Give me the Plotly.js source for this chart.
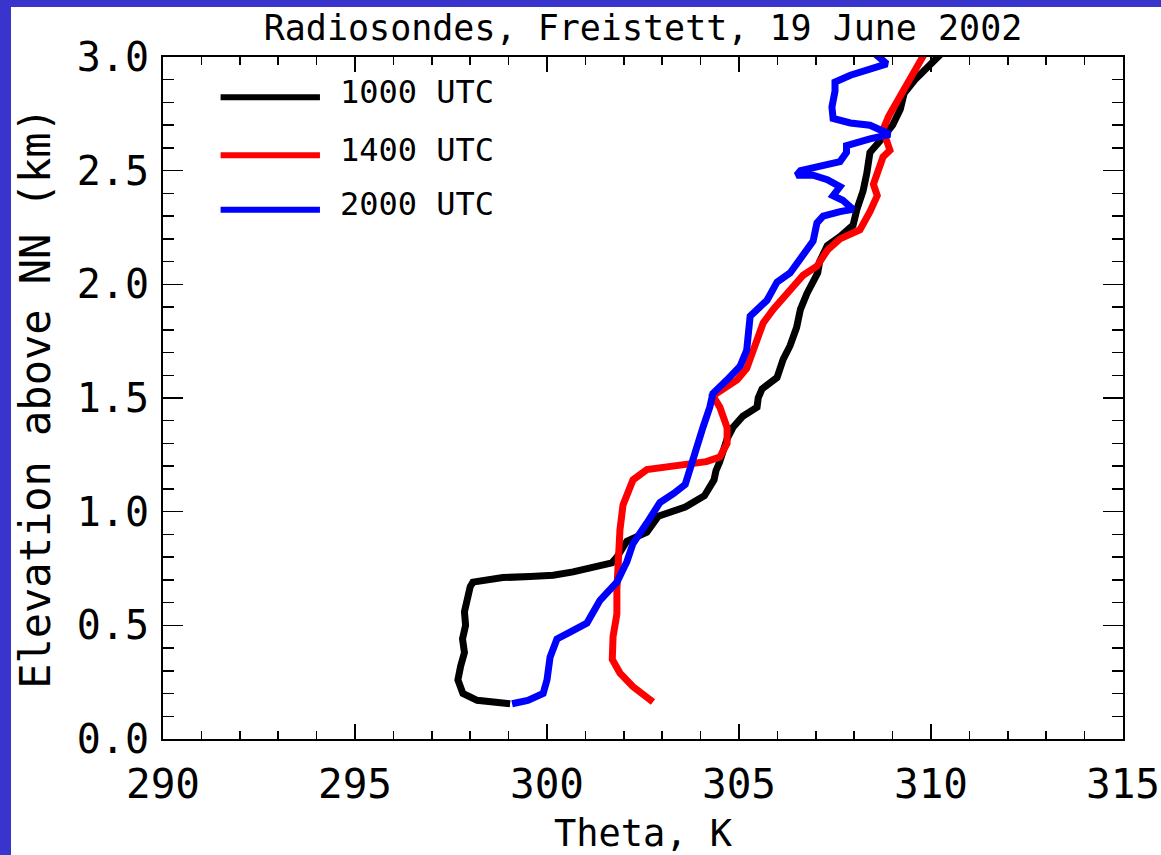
<!DOCTYPE html>
<html>
<head>
<meta charset="utf-8">
<script src="https://cdn.plot.ly/plotly-3.0.1.min.js"></script>
<style>
  html, body { margin:0; padding:0; width:1161px; height:855px; background:#3834CC; overflow:hidden; }
  #chart { position:absolute; left:11px; top:7px; width:1150px; height:848px; background:#ffffff; }
</style>
</head>
<body>
<div id="chart"></div>
<script>
// ---- Data (theta in K, elevation in km) ----
const seriesNames = ["1000 UTC", "1400 UTC", "2000 UTC"];
const seriesColors = ["#000000", "#FF0000", "#0000FF"];

const theta1000 = [299.04,298.7,298.18,297.81,297.68,297.75,297.85,297.8,297.88,297.85,297.92,298.0,298.07,298.85,299.56,300.16,300.68,301.3,301.69,301.82,302.08,302.6,302.9,303.6,304.1,304.35,304.4,304.5,304.69,304.84,305.1,305.47,305.5,305.6,305.99,306.15,306.33,306.5,306.6,306.77,306.93,307.05,307.1,307.3,307.63,307.97,308.07,308.23,308.33,308.41,308.67,309.0,309.2,309.3,309.58,309.92,310.3];
const elev1000  = [0.155,0.158,0.17,0.20,0.26,0.32,0.38,0.44,0.50,0.56,0.62,0.67,0.69,0.71,0.715,0.72,0.735,0.76,0.775,0.80,0.87,0.91,0.98,1.02,1.07,1.14,1.18,1.22,1.32,1.37,1.42,1.46,1.50,1.54,1.59,1.67,1.73,1.81,1.89,1.96,2.01,2.05,2.10,2.17,2.21,2.26,2.33,2.41,2.49,2.58,2.63,2.70,2.77,2.84,2.90,2.96,3.02];

const theta1400 = [302.76,302.45,302.24,301.9,301.7,301.72,301.82,301.82,301.85,301.9,301.98,302.24,302.6,303.72,304.15,304.5,304.69,304.69,304.5,304.32,304.58,304.95,305.2,305.36,305.5,305.63,305.89,306.33,306.67,307.03,307.3,307.63,308.15,308.41,308.6,308.5,308.62,308.75,308.93,308.75,308.9,309.1,309.45,309.6,309.85];
const elev1400  = [0.163,0.20,0.23,0.29,0.35,0.45,0.55,0.66,0.78,0.92,1.03,1.14,1.185,1.21,1.22,1.24,1.30,1.37,1.46,1.51,1.54,1.58,1.63,1.71,1.78,1.83,1.89,1.98,2.04,2.08,2.15,2.20,2.24,2.32,2.39,2.44,2.51,2.56,2.59,2.68,2.74,2.80,2.89,2.95,3.02];

const theta2000 = [299.09,299.5,299.9,300.0,300.08,300.26,300.6,301.04,301.38,301.82,302.08,302.24,302.6,302.94,303.3,303.6,303.72,303.9,304.06,304.24,304.32,304.69,305.03,305.2,305.23,305.29,305.73,305.99,306.33,306.6,306.93,307.03,307.19,307.63,307.97,307.7,307.45,307.63,307.3,306.93,306.5,306.6,307.1,307.63,307.8,307.8,308.41,308.93,308.41,307.9,307.45,307.42,307.5,307.5,307.9,308.41,308.85,308.5];
const elev2000  = [0.155,0.17,0.20,0.26,0.36,0.44,0.47,0.51,0.61,0.69,0.78,0.86,0.95,1.04,1.08,1.12,1.185,1.29,1.37,1.46,1.52,1.58,1.64,1.71,1.79,1.86,1.93,2.01,2.05,2.11,2.19,2.27,2.30,2.32,2.33,2.37,2.39,2.43,2.46,2.48,2.48,2.50,2.52,2.54,2.58,2.61,2.64,2.66,2.70,2.71,2.73,2.78,2.85,2.89,2.92,2.95,2.97,3.02];

const xTickVals = [290, 295, 300, 305, 310, 315];
const yTickVals = [0.0, 0.5, 1.0, 1.5, 2.0, 2.5, 3.0];

const FONT = "DejaVu Sans Mono, monospace";

const thetas = [theta1000, theta1400, theta2000];
const elevs  = [elev1000, elev1400, elev2000];

const traces = thetas.map((t, i) => ({
  type: "scatter",
  mode: "lines",
  x: t,
  y: elevs[i],
  name: seriesNames[i],
  line: { color: seriesColors[i], width: 7 },
  showlegend: false,
  hoverinfo: "skip"
}));

// Custom legend (long line samples like the original)
const legendY = [0.941, 0.856, 0.776];
const shapes = [];
const annotations = [];
seriesNames.forEach((n, i) => {
  shapes.push({
    type: "line", xref: "paper", yref: "paper",
    x0: 0.060, x1: 0.1635, y0: legendY[i], y1: legendY[i],
    line: { color: seriesColors[i], width: 6 }
  });
  annotations.push({
    xref: "paper", yref: "paper", x: 0.182, y: legendY[i] + 0.008,
    xanchor: "left", yanchor: "middle", showarrow: false,
    text: n, font: { family: FONT, size: 32, color: "#000" }
  });
});

const layout = {
  width: 1150, height: 848,
  margin: { l: 152, r: 38, t: 50, b: 116 },
  paper_bgcolor: "#ffffff",
  plot_bgcolor: "#ffffff",
  title: {
    text: "Radiosondes, Freistett, 19 June 2002",
    font: { family: FONT, size: 35, color: "#000" },
    x: 0.5, xref: "paper", xanchor: "center",
    y: 0.975, yref: "container", yanchor: "middle"
  },
  xaxis: {
    range: [290, 315],
    tickvals: xTickVals,
    ticktext: xTickVals.map(v => String(v)),
    ticks: "inside", ticklen: 15, tickwidth: 1.5, tickcolor: "#000",
    minor: { dtick: 1, ticks: "inside", ticklen: 8, tickwidth: 1.5, tickcolor: "#000", showgrid: false },
    showline: true, linecolor: "#000", linewidth: 2, mirror: "ticks",
    showgrid: false, zeroline: false,
    tickfont: { family: FONT, size: 41, color: "#000" },
    ticklabelstandoff: 8,
    title: { text: "Theta, K", font: { family: FONT, size: 37, color: "#000" }, standoff: 16 }
  },
  yaxis: {
    range: [0, 3],
    tickvals: yTickVals,
    ticktext: yTickVals.map(v => v.toFixed(1)),
    ticks: "inside", ticklen: 20, tickwidth: 1.5, tickcolor: "#000",
    minor: { dtick: 0.1, ticks: "inside", ticklen: 11, tickwidth: 1.5, tickcolor: "#000", showgrid: false },
    showline: true, linecolor: "#000", linewidth: 2, mirror: "ticks",
    showgrid: false, zeroline: false,
    tickfont: { family: FONT, size: 40, color: "#000" },
    ticklabelstandoff: 4,
    title: { text: "Elevation above NN (km)", font: { family: FONT, size: 42, color: "#000" }, standoff: 16 }
  },
  shapes: shapes,
  annotations: annotations
};

Plotly.newPlot("chart", traces, layout, { staticPlot: true, displayModeBar: false });
</script>
</body>
</html>
